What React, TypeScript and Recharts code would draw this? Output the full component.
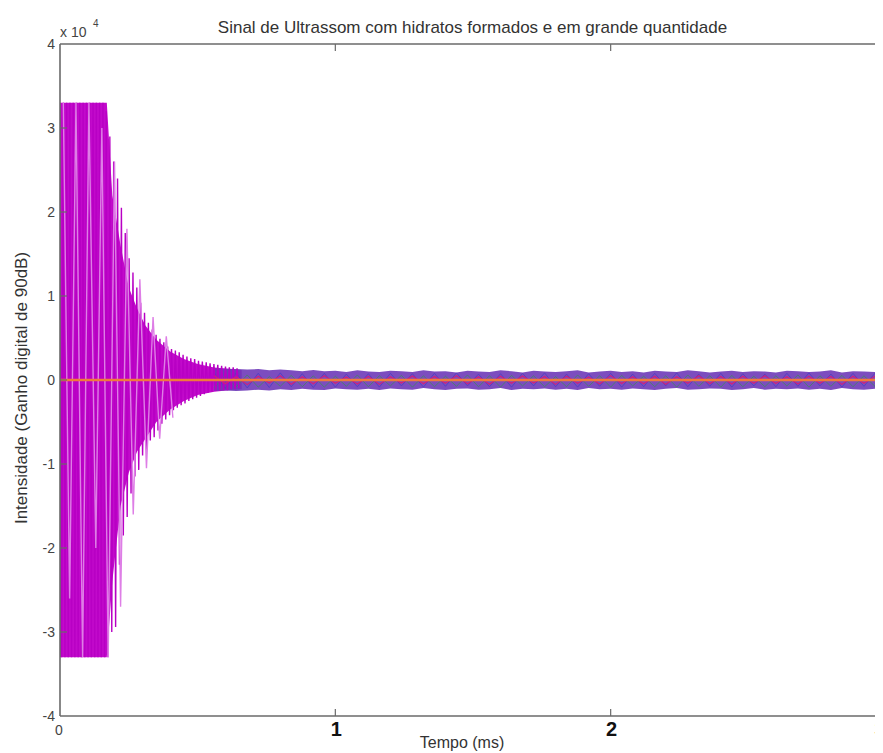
import React, { useLayoutEffect } from 'react';
import { ComposedChart, Line, Area, XAxis, YAxis, ReferenceLine } from 'recharts';

const FONT = "'Liberation Sans', Arial, Helvetica, sans-serif";

const tituloGrafico = 'Sinal de Ultrassom com hidratos formados e em grande quantidade';
const rotuloX = 'Tempo (ms)';
const rotuloY = 'Intensidade (Ganho digital de 90dB)';

const ticksX = [0, 1, 2, 3];
const ticksY = [-40000, -30000, -20000, -10000, 0, 10000, 20000, 30000, 40000];

// saturated burst (0 - 0.174 ms)
const tempoSaturado = [0, 0.006, 0.012, 0.018, 0.024, 0.03, 0.036, 0.042, 0.048, 0.054, 0.06, 0.066, 0.072, 0.078, 0.084, 0.09, 0.096, 0.102, 0.108, 0.114, 0.12, 0.126, 0.132, 0.138, 0.144, 0.15, 0.156, 0.162, 0.168, 0.174];
const sinalSaturado = [33000, -33000, 33000, -33000, 33000, -33000, 33000, -33000, 33000, -33000, 33000, -33000, 33000, -33000, 33000, -33000, 33000, -33000, 33000, -33000, 33000, -33000, 33000, -33000, 33000, -33000, 33000, -33000, 32000, -33000];

// decaying oscillation
const tempoDecaimento = [0.181, 0.188, 0.195, 0.202, 0.209, 0.216, 0.223, 0.23, 0.237, 0.244, 0.251, 0.258, 0.265, 0.272, 0.279, 0.286, 0.293, 0.3, 0.307, 0.314, 0.321, 0.328, 0.335, 0.342, 0.349, 0.356, 0.363, 0.37, 0.377, 0.384, 0.391, 0.398, 0.405, 0.412, 0.419, 0.426, 0.433, 0.44, 0.447, 0.454, 0.461, 0.468, 0.475, 0.482, 0.489, 0.496, 0.503, 0.51, 0.517, 0.524, 0.531, 0.538, 0.545, 0.552, 0.559, 0.566, 0.573, 0.58, 0.587, 0.594, 0.601, 0.608, 0.615, 0.622, 0.629, 0.636, 0.643, 0.65];
const sinalDecaimento = [29000, -30000, 26000, -29400, 24000, -22000, 20500, -18500, 17500, -16300, 14500, -13500, 12800, -11500, 11000, -10700, 9200, -9000, 8000, -8300, 6800, -7200, 6000, -6800, 5400, -6000, 4900, -5200, 4500, -4700, 4000, -4200, 3700, -3600, 3500, -3300, 3300, -3000, 3000, -2800, 2800, -2500, 2600, -2300, 2500, -2100, 2300, -1900, 2200, -1700, 2100, -1500, 2000, -1400, 1900, -1300, 1800, -1300, 1700, -1200, 1600, -1200, 1500, -1100, 1500, -1100, 1400, -1000];

// lighter pink traces
const tempoClaro = [0.012, 0.035, 0.058, 0.082, 0.105, 0.13, 0.152, 0.175, 0.198, 0.22, 0.243, 0.266, 0.29, 0.314, 0.338, 0.362, 0.386, 0.41];
const sinalClaro = [33000, -26000, 33000, -33000, 33000, -20000, 30000, -33000, 26000, -27000, 18000, -16000, 12000, -10500, 7500, -7000, 5200, -4500];

// solid core of the burst
const tempoNucleo = [0, 0.17, 0.19, 0.22, 0.25, 0.28, 0.31, 0.35, 0.4, 0.45, 0.5, 0.56, 0.62, 0.66];
const nucleoSup = [33000, 33000, 22000, 16000, 11000, 8500, 6500, 4800, 3400, 2500, 1900, 1500, 1300, 1200];
const nucleoInf = [-33000, -33000, -24000, -15000, -11000, -8500, -7000, -5000, -3500, -2500, -1800, -1400, -1200, -1100];

// residual noise band
const tempoRuido = [0.56, 0.6, 0.64, 0.68, 0.72, 0.76, 0.8, 0.84, 0.88, 0.92, 0.96, 1.0, 1.04, 1.08, 1.12, 1.16, 1.2, 1.24, 1.28, 1.32, 1.36, 1.4, 1.44, 1.48, 1.52, 1.56, 1.6, 1.64, 1.68, 1.72, 1.76, 1.8, 1.84, 1.88, 1.92, 1.96, 2.0, 2.04, 2.08, 2.12, 2.16, 2.2, 2.24, 2.28, 2.32, 2.36, 2.4, 2.44, 2.48, 2.52, 2.56, 2.6, 2.64, 2.68, 2.72, 2.76, 2.8, 2.84, 2.88, 2.92, 2.96, 3.0];
const faixaSup = [1400, 1350, 1300, 1250, 1300, 1150, 1250, 1150, 1050, 1200, 1050, 1100, 950, 1150, 1000, 950, 1100, 1050, 950, 1150, 1000, 1050, 900, 1100, 1000, 950, 1150, 1050, 900, 1100, 1000, 950, 1050, 1150, 900, 1000, 1100, 950, 1050, 900, 1100, 1000, 950, 1150, 1050, 900, 1000, 1100, 950, 1050, 1000, 900, 1100, 1050, 950, 1000, 1150, 900, 1050, 1000, 950, 1100];
const faixaInf = [-1300, -1250, -1300, -1250, -1150, -1250, -1100, -1200, -1050, -1150, -1200, -1000, -1100, -1150, -1050, -1200, -1000, -1100, -1150, -950, -1100, -1200, -1050, -1000, -1150, -1100, -950, -1200, -1050, -1100, -1000, -1150, -1050, -1200, -950, -1100, -1050, -1150, -1000, -1100, -1200, -1050, -950, -1150, -1100, -1000, -1050, -1200, -1100, -950, -1150, -1050, -1100, -1000, -1150, -1050, -1200, -950, -1100, -1150, -1050, -1100];
const ruidoAzul = [900, -1000, 850, -950, 800, -900, 850, -800, 750, -900, 800, -850, 700, -800, 750, -850, 800, -700, 750, -850, 800, -750, 850, -700, 700, -800, 750, -850, 800, -700, 850, -800, 700, -850, 750, -750, 800, -850, 700, -800, 800, -700, 850, -800, 700, -750, 800, -850, 750, -700, 700, -800, 800, -750, 850, -700, 700, -850, 800, -750, 800, -700];
const ruidoVerde = [-900, 500, -800, 600, -850, 400, -750, 550, -800, 500, -850, 450, -750, 600, -800, 500, -700, 550, -850, 500, -800, 450, -750, 600, -800, 500, -850, 550, -700, 500, -800, 400, -800, 600, -750, 500, -850, 550, -700, 450, -800, 500, -850, 600, -750, 500, -850, 550, -800, 450, -800, 500, -700, 600, -850, 500, -750, 550, -800, 500, -750, 550];
const ruidoVermelho = [500, -450, 400, -550, 450, -350, 500, -500, 380, -450, 520, -400, 350, -480, 450, -520, 400, -350, 480, -450, 420, -400, 520, -450, 380, -500, 450, -400, 480, -350, 420, -520, 460, -400, 350, -480, 520, -420, 400, -460, 450, -520, 380, -400, 500, -450, 420, -480, 450, -380, 520, -420, 400, -480, 460, -400, 420, -520, 450, -400, 460, -420];

const dadosPico = [
  ...tempoSaturado.map((t, i) => ({ t, v: sinalSaturado[i] })),
  ...tempoDecaimento.map((t, i) => ({ t, v: sinalDecaimento[i] })),
];
const dadosClaro = tempoClaro.map((t, i) => ({ t, v: sinalClaro[i] }));
const dadosNucleo = tempoNucleo.map((t, i) => ({ t, faixa: [nucleoInf[i], nucleoSup[i]] }));
const dadosRuido = tempoRuido.map((t, i) => ({
  t,
  faixa: [faixaInf[i], faixaSup[i]],
  azul: ruidoAzul[i],
  verde: ruidoVerde[i],
  vermelho: ruidoVermelho[i],
}));

const FRAME = '#6a6a6a';

const BottomTick = (props: any) => {
  const { x, y, payload } = props;
  const v = payload.value;
  return (
    <g>
      {v > 0 && v < 3 && <line x1={x} x2={x} y1={y} y2={y - 7} stroke={FRAME} strokeWidth={1.2} />}
      {v === 0 ? (
        <text x={x - 1} y={y + 19} textAnchor="middle" fontSize={14} fill="#444" fontFamily={FONT}>0</text>
      ) : (
        <text x={v === 3 ? x - 6 : x + 1} y={y + 20} textAnchor="middle" fontSize={20} fontWeight="bold" fill="#111" fontFamily={FONT}>{v}</text>
      )}
    </g>
  );
};

const LeftTick = (props: any) => {
  const { x, y, payload } = props;
  const v = payload.value;
  const inner = v > -40000 && v < 40000;
  return (
    <g>
      {inner && <line x1={x} x2={x + 7} y1={y} y2={y} stroke={FRAME} strokeWidth={1.2} />}
      <text x={x - 5} y={y + 5} textAnchor="end" fontSize={14} fill="#444" fontFamily={FONT}>{v / 10000}</text>
    </g>
  );
};

const TopTick = (props: any) => {
  const { x, y, payload } = props;
  const v = payload.value;
  if (!(v > 0 && v < 3)) return <g />;
  return <line x1={x} x2={x} y1={y} y2={y + 7} stroke={FRAME} strokeWidth={1.2} />;
};

const RightTick = (props: any) => {
  const { x, y, payload } = props;
  const v = payload.value;
  if (!(v > -40000 && v < 40000)) return <g />;
  return <line x1={x + 2} x2={x - 11} y1={y} y2={y} stroke={FRAME} strokeWidth={1.5} />;
};

export default function App() {
  useLayoutEffect(() => {
    document.documentElement.style.overflow = 'hidden';
    document.body.style.overflow = 'hidden';
  }, []);
  return (
    <div style={{ position: 'relative', width: 875, height: 745, overflow: 'hidden', background: '#fff' }}>
      <ComposedChart width={888} height={745} margin={{ top: 35, right: 9, bottom: 36, left: 0 }}>
        <XAxis
          xAxisId="b"
          type="number"
          dataKey="t"
          domain={[0, 3]}
          ticks={ticksX}
          interval={0}
          allowDataOverflow
          height={1}
          tickSize={0}
          tickMargin={0}
          tickLine={false}
          axisLine={{ stroke: FRAME, strokeWidth: 1.6 }}
          tick={<BottomTick />}
        />
        <XAxis
          xAxisId="top"
          orientation="top"
          type="number"
          dataKey="t"
          domain={[0, 3]}
          ticks={ticksX}
          interval={0}
          allowDataOverflow
          height={1}
          tickSize={0}
          tickMargin={0}
          tickLine={false}
          axisLine={{ stroke: FRAME, strokeWidth: 1.6 }}
          tick={<TopTick />}
        />
        <YAxis
          yAxisId="l"
          type="number"
          domain={[-40000, 40000]}
          ticks={ticksY}
          interval={0}
          allowDataOverflow
          width={52}
          tickSize={0}
          tickMargin={0}
          tickLine={false}
          axisLine={{ stroke: FRAME, strokeWidth: 1.6 }}
          tick={<LeftTick />}
        />
        <YAxis
          yAxisId="right"
          orientation="right"
          type="number"
          domain={[-40000, 40000]}
          ticks={ticksY}
          interval={0}
          allowDataOverflow
          width={1}
          tickSize={0}
          tickMargin={0}
          tickLine={false}
          axisLine={{ stroke: FRAME, strokeWidth: 1.6 }}
          tick={<RightTick />}
        />

        <Area data={dadosNucleo} xAxisId="b" yAxisId="l" dataKey="faixa" type="linear" stroke="none" fill="#c20acb" fillOpacity={1} isAnimationActive={false} />
        <Area data={dadosRuido} xAxisId="b" yAxisId="l" dataKey="faixa" type="linear" stroke="none" fill="#6e3ab8" fillOpacity={0.9} isAnimationActive={false} />
        <Line data={dadosRuido} xAxisId="b" yAxisId="l" dataKey="azul" type="linear" stroke="#4a3cc4" strokeWidth={0.8} dot={false} isAnimationActive={false} />
        <Line data={dadosRuido} xAxisId="b" yAxisId="l" dataKey="verde" type="linear" stroke="#3f8a5a" strokeWidth={0.8} dot={false} isAnimationActive={false} />
        <Line data={dadosPico} xAxisId="b" yAxisId="l" dataKey="v" type="linear" stroke="#b800c4" strokeWidth={1.4} dot={false} isAnimationActive={false} />
        <Line data={dadosClaro} xAxisId="b" yAxisId="l" dataKey="v" type="linear" stroke="#de7ee6" strokeWidth={1.4} dot={false} isAnimationActive={false} />
        <Line data={dadosRuido} xAxisId="top" yAxisId="right" dataKey="vermelho" type="linear" stroke="#d0207a" strokeWidth={1.2} dot={false} isAnimationActive={false} />
        <ReferenceLine xAxisId="b" yAxisId="l" y={0} stroke="#f07a3c" strokeWidth={2.5} />
      </ComposedChart>

      <svg width={875} height={745} style={{ position: 'absolute', left: 0, top: 0, pointerEvents: 'none' }}>
        <text x={464.5} y={25} textAnchor="middle" fontSize={17} fill="#333" fontFamily={FONT}>{tituloGrafico}</text>
        <text x={52} y={29} fontSize={14} fill="#444" fontFamily={FONT}>x 10</text>
        <text x={85} y={19} fontSize={10} fill="#444" fontFamily={FONT}>4</text>
        <text x={454} y={740} textAnchor="middle" fontSize={16} fill="#333" fontFamily={FONT}>{rotuloX}</text>
        <text x={19} y={380} transform="rotate(-90, 19, 380)" textAnchor="middle" fontSize={17} fill="#333" fontFamily={FONT}>{rotuloY}</text>
      </svg>
    </div>
  );
}
